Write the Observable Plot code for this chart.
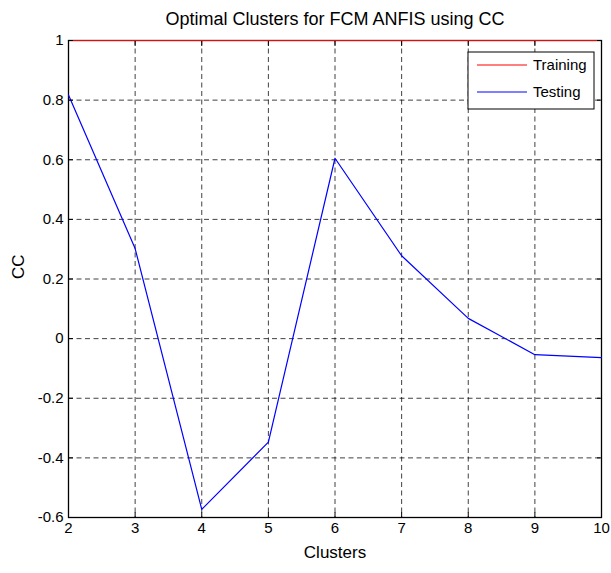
<!DOCTYPE html>
<html>
<head>
<meta charset="utf-8">
<script src="https://cdn.jsdelivr.net/npm/d3@7"></script>
<script src="https://cdn.jsdelivr.net/npm/@observablehq/plot@0.6"></script>
<style>
  html, body { margin: 0; padding: 0; background: #fff; }
  #chart svg { display: block; }
</style>
</head>
<body>
<div id="chart"></div>
<script>
const clusters = [2, 3, 4, 5, 6, 7, 8, 9, 10];
const testingCC = [0.817, 0.302, -0.573, -0.347, 0.605, 0.278, 0.068, -0.054, -0.064];
const trainingCC = [1, 1, 1, 1, 1, 1, 1, 1, 1];
const xTicks = [2, 3, 4, 5, 6, 7, 8, 9, 10];
const yTicks = [-0.6, -0.4, -0.2, 0, 0.2, 0.4, 0.6, 0.8, 1];
const yTickLabels = ["-0.6", "-0.4", "-0.2", "0", "0.2", "0.4", "0.6", "0.8", "1"];
const titleText = "Optimal Clusters for FCM ANFIS using CC";
const xLabel = "Clusters";
const yLabel = "CC";
const seriesNames = ["Training", "Testing"];
const seriesColors = ["#ff0000", "#0000ff"];

const rows = [];
clusters.forEach((c, i) => {
  rows.push({x: c, y: trainingCC[i], s: seriesNames[0]});
});
clusters.forEach((c, i) => {
  rows.push({x: c, y: testingCC[i], s: seriesNames[1]});
});

const font = "'Liberation Sans', Arial, Helvetica, sans-serif";
const W = 611, H = 573;
const mL = 68, mR = 10, mT = 40, mB = 56;

const plot = Plot.plot({
  width: W,
  height: H,
  marginLeft: mL,
  marginRight: mR,
  marginTop: mT,
  marginBottom: mB,
  style: {fontFamily: font, fontSize: "15px", color: "#000", background: "#fff"},
  x: {domain: [2, 10]},
  y: {domain: [-0.6, 1]},
  color: {domain: seriesNames, range: seriesColors},
  marks: [
    Plot.gridX(xTicks, {stroke: "#000", strokeOpacity: 0.75, strokeDasharray: "5,3.5"}),
    Plot.gridY(yTicks, {stroke: "#000", strokeOpacity: 0.75, strokeDasharray: "5,3.5"}),
    Plot.frame({stroke: "#000", strokeWidth: 1.3}),
    Plot.line(rows, {x: "x", y: "y", z: "s", stroke: "s", strokeWidth: 1.2}),
    Plot.axisX(xTicks, {anchor: "bottom", tickSize: -5, tickPadding: 10, fontSize: 15, label: null, tickFormat: d => String(d)}),
    Plot.axisX(xTicks, {anchor: "top", tickSize: -5, label: null, tickFormat: () => ""}),
    Plot.axisY(yTicks, {anchor: "left", tickSize: -5, tickPadding: 10, fontSize: 15, label: null, tickFormat: d => yTickLabels[yTicks.indexOf(d)]}),
    Plot.axisY(yTicks, {anchor: "right", tickSize: -5, label: null, tickFormat: () => ""}),
    Plot.text([titleText], {frameAnchor: "top", dy: -28, fontSize: 18, text: d => d}),
    Plot.text([xLabel], {frameAnchor: "bottom", dy: 40, fontSize: 17, text: d => d}),
    Plot.text([yLabel], {frameAnchor: "left", dx: -50, rotate: -90, fontSize: 17, text: d => d})
  ]
});

// legend (inside the plot area, top-right)
const svg = d3.select(plot);
const lg = svg.append("g").attr("font-family", font).attr("font-size", 15).attr("text-anchor", "start");
lg.append("rect").attr("x", 468).attr("y", 52).attr("width", 126).attr("height", 57)
  .attr("fill", "#fff").attr("stroke", "#000").attr("stroke-width", 1);
seriesNames.forEach((name, i) => {
  const y = 65 + i * 27;
  lg.append("line").attr("x1", 477).attr("x2", 527).attr("y1", y).attr("y2", y)
    .attr("stroke", seriesColors[i]).attr("stroke-width", 1.1);
  lg.append("text").attr("x", 533).attr("y", y).attr("dy", "0.35em")
    .attr("text-anchor", "start").attr("fill", "#000").text(name);
});

document.getElementById("chart").appendChild(plot);
</script>
</body>
</html>
